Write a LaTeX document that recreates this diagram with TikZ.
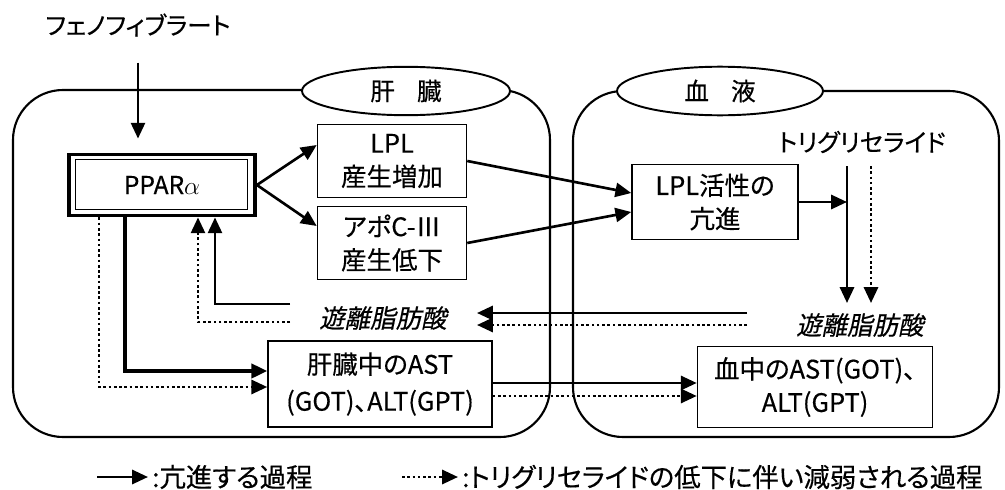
\documentclass[tikz,border=0pt]{standalone}
\usepackage{fontspec}
\setmainfont{Noto Sans CJK JP}[RawFeature=+palt,FakeBold=0.4]
\newfontfamily\jpslant{Noto Sans CJK JP}[RawFeature=+palt,FakeSlant=0.2,FakeBold=0.4]
\usetikzlibrary{arrows.meta,calc,shapes.geometric}

\begin{document}
\begin{tikzpicture}[x=0.02cm, y=-0.02cm,
		txt/.style={font=\fontsize{14}{17}\selectfont},
		slanted/.style={font=\jpslant\fontsize{14.5}{17}\selectfont},
		box/.style={draw, line width=0.9pt, align=center, font=\fontsize{14.5}{19}\selectfont},
		tag/.style={draw, ellipse, fill=white, line width=1.1pt, minimum height=0.96cm, font=\fontsize{14}{17}\selectfont},
		organ/.style={line width=1.2pt, rounded corners=1cm},
		legtxt/.style={anchor=west, inner sep=0.5pt, font=\fontsize{15}{17}\selectfont},
		solidarr/.style={line width=1.5pt, -{Triangle[length=9pt, width=8pt]}},
		dotarr/.style={line width=1.5pt, dash pattern=on 1.5pt off 1.5pt, -{Triangle[length=9pt, width=8pt]}}]
			%%%%% START %%%%%
			
			\useasboundingbox (0, 0) rectangle (1005, 490);
			
			\draw[organ] (13, 90) rectangle (550, 437);
			\draw[organ] (573, 91) rectangle (999, 437);
			\node[tag, minimum width=4.16cm] (liver) at (406, 91) {肝\hspace{0.9em}臓};
			\node[tag, minimum width=4.12cm] (blood) at (720, 91) {血\hspace{0.9em}液};
			
			\node[txt] (feno) at (138, 25) {フェノフィブラート};
			\node[draw, line width=2.2pt, minimum width=3.72cm, minimum height=1.22cm, txt] (ppar) at (162, 185) {PPAR$\alpha$};
			\draw[line width=0.5pt] ($(ppar.north west)+(8, 7)$) rectangle ($(ppar.south east)+(-9, -8)$);
			
			\node[box, minimum width=2.98cm, minimum height=1.46cm] (lplup) at (392, 161) {LPL\\産生増加};
			\node[box, minimum width=2.98cm, minimum height=1.46cm] (apoc) at (392, 243) {アポC-Ⅲ\\産生低下};
			\node[box, minimum width=3.32cm, minimum height=1.5cm] (lplact) at (715, 202) {LPL活性の\\亢進};
			\node[txt] (tg) at (862, 142) {トリグリセライド};
			\node[slanted] (ffab) at (860, 325) {遊離脂肪酸};
			\node[slanted] (ffal) at (383, 318) {遊離脂肪酸};
			\node[box, minimum width=4.48cm, minimum height=1.72cm, font=\fontsize{14.5}{21}\selectfont] (astl) at (380, 384) {肝臓中のAST\\(GOT)、ALT(GPT)};
			\node[box, minimum width=4.7cm, minimum height=1.62cm] (astb) at (815, 387) {血中のAST(GOT)、\\ALT(GPT)};
			
			% upper arrows
			\draw[solidarr] ($(feno.south)+(0, 20)$) -- ($(ppar.north -| feno)+(0, -14)$);
			\draw[solidarr] (ppar.east) -- ($(lplup.west)+(0, -16)$);
			\draw[solidarr] (ppar.east) -- ($(apoc.west)+(0, -17)$);
			\draw[solidarr] (lplup.east) -- ($(lplact.west)+(0, -9)$);
			\draw[solidarr] (apoc.east) -- ($(lplact.west)+(0, 10)$);
			
			\coordinate (tgSolid) at (847, 166);
			\coordinate (tgDot) at (871, 166);
			\coordinate (ffaSolid) at (847, 303);
			\coordinate (ffaDot) at (871, 303);
			\draw[solidarr] (lplact.east) -- (lplact.east -| tgSolid);
			\draw[solidarr] (tgSolid) -- (ffaSolid);
			\draw[dotarr] (tgDot) -- (ffaDot);
			
			% free fatty acid back to the liver
			\coordinate (ffaOutS) at (747, 313);
			\coordinate (ffaOutD) at (747, 325);
			\coordinate (ffaInS) at (477, 313);
			\coordinate (ffaInD) at (477, 325);
			\draw[solidarr] (ffaOutS) -- (ffaInS);
			\draw[dotarr] (ffaOutD) -- (ffaInD);
			
			\coordinate (ffaBackS) at (290, 304);
			\coordinate (ffaBackD) at (290, 322);
			\draw[solidarr] (ffaBackS) -| ($(ppar.south)+(53, 0)$);
			\draw[dotarr] (ffaBackD) -| ($(ppar.south)+(36, 0)$);
			
			% transaminases
			\draw[solidarr, line width=2.2pt] ($(ppar.south)+(-37, 0)$) |- ($(astl.west)+(0, -13)$);
			\draw[dotarr] ($(ppar.south)+(-63, 0)$) |- ($(astl.west)+(0, 3)$);
			\draw[solidarr] ($(astl.east)+(0, -1)$) -- ($(astb.west)+(0, -4)$);
			\draw[dotarr] ($(astl.east)+(0, 12)$) -- ($(astb.west)+(0, 9)$);
			
			% legend
			\coordinate (legS) at (97, 477);
			\node[legtxt] (legA) at (151, 477) {:亢進する過程};
			\draw[solidarr] (legS) -- ($(legA.west)+(-3, 0)$);
			\coordinate (legD) at (402, 477);
			\node[legtxt] (legB) at (461, 477) {:トリグリセライドの低下に伴い減弱される過程};
			\draw[dotarr] (legD) -- ($(legB.west)+(-3, 0)$);
			
			%%%%% END %%%%%
		\end{tikzpicture}
\end{document}
